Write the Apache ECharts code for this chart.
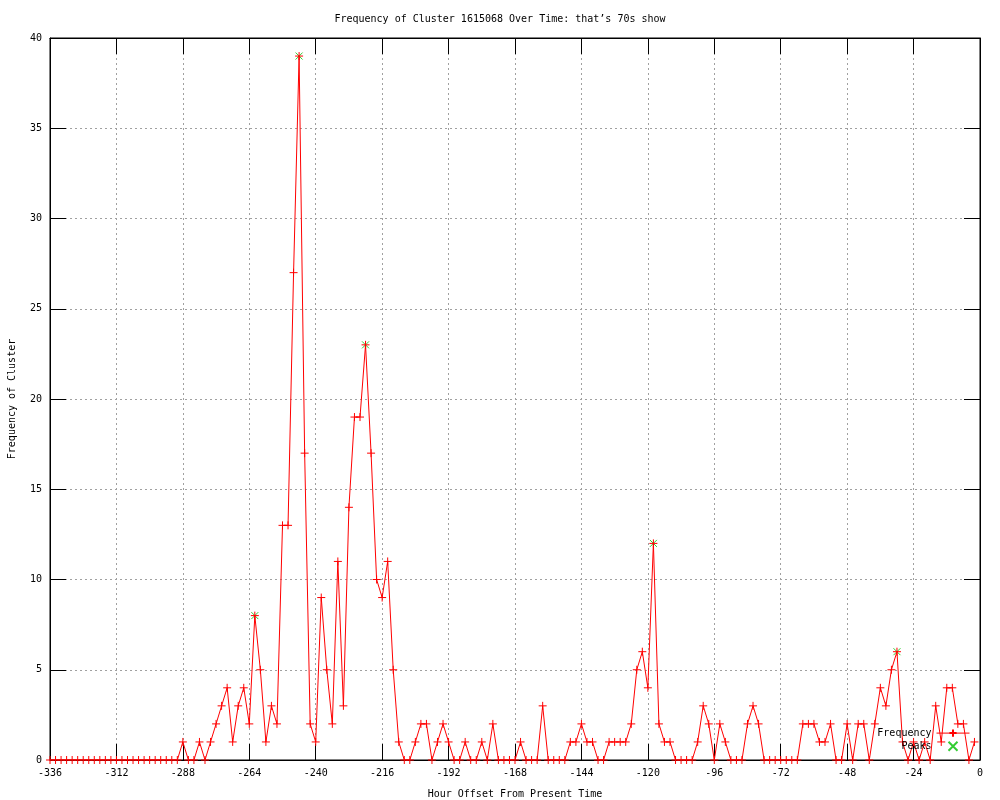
<!DOCTYPE html>
<html>
<head>
<meta charset="utf-8">
<script src="https://cdn.jsdelivr.net/npm/echarts@6/dist/echarts.min.js"></script>
<style>html,body{margin:0;padding:0;background:#fff;}#chart{width:1000px;height:800px;}</style>
</head>
<body>
<div id="chart"></div>
<script>
const hours = [-336,-334,-332,-330,-328,-326,-324,-322,-320,-318,-316,-314,-312,-310,-308,-306,-304,-302,-300,-298,-296,-294,-292,-290,
 -288,-286,-284,-282,-280,-278,-276,-274,-272,-270,-268,-266,-264,-262,-260,-258,-256,-254,-252,-250,-248,-246,-244,-242,-240,-238,
 -236,-234,-232,-230,-228,-226,-224,-222,-220,-218,-216,-214,-212,-210,-208,-206,-204,-202,-200,-198,-196,-194,-192,-190,-188,-186,
 -184,-182,-180,-178,-176,-174,-172,-170,-168,-166,-164,-162,-160,-158,-156,-154,-152,-150,-148,-146,-144,-142,-140,-138,-136,-134,
 -132,-130,-128,-126,-124,-122,-120,-118,-116,-114,-112,-110,-108,-106,-104,-102,-100,-98,-96,-94,-92,-90,-88,-86,-84,-82,-80,-78,
 -76,-74,-72,-70,-68,-66,-64,-62,-60,-58,-56,-54,-52,-50,-48,-46,-44,-42,-40,-38,-36,-34,-32,-30,-28,-26,-24,-22,-20,-18,-16,-14,
 -12,-10,-8,-6,-4,-2];
const frequency = [0,0,0,0,0,0,0,0,0,0,0,0,0,0,0,0,0,0,0,0,0,0,0,0,
 1,0,0,1,0,1,2,3,4,1,3,4,2,8,5,1,3,2,13,13,27,39,17,2,1,9,
 5,2,11,3,14,19,19,23,17,10,9,11,5,1,0,0,1,2,2,0,1,2,1,0,0,1,
 0,0,1,0,2,0,0,0,0,1,0,0,0,3,0,0,0,0,1,1,2,1,1,0,0,1,
 1,1,1,2,5,6,4,12,2,1,1,0,0,0,0,1,3,2,0,2,1,0,0,0,2,3,2,0,
 0,0,0,0,0,0,2,2,2,1,1,2,0,0,2,0,2,2,0,2,4,3,5,6,1,0,1,0,1,0,3,1,
 4,4,2,2,0,1];
const peakHours = [-262, -246, -222, -118, -30];
const peakValues = [8, 39, 23, 12, 6];
const xTicks = {min: -336, max: 0, interval: 24};
const yTicks = {min: 0, max: 40, interval: 5};

const freqData = hours.map((h, i) => [h, frequency[i]]);
const peakData = peakHours.map((h, i) => [h, peakValues[i]]);

const FONT = 'DejaVu Sans Mono';
const plus = 'path://M5,0L5,10M0,5L10,5';
const cross = 'path://M0,0L10,10M10,0L0,10';
const gridLine = {show: true, lineStyle: {color: '#a0a0a0', type: [2, 3], width: 1}};
const axisLineStyle = {show: true, onZero: false, lineStyle: {color: '#000'}};

const chart = echarts.init(document.getElementById('chart'), null, {renderer: 'canvas'});
chart.setOption({
  animation: false,
  backgroundColor: '#fff',
  title: {
    text: 'Frequency of Cluster 1615068 Over Time: that\u2019s 70s show',
    left: 'center', top: 9,
    textStyle: {fontFamily: FONT, fontSize: 10, fontWeight: 'normal', color: '#000'}
  },
  grid: {left: 50, right: 20, top: 38, bottom: 40, show: true, borderColor: '#000', borderWidth: 1,
    backgroundColor: 'transparent', containLabel: false, outerBoundsMode: 'none'},
  legend: {
    orient: 'vertical', right: 30, top: 727, align: 'right', padding: 0,
    itemWidth: 33, itemHeight: 9, itemGap: 0,
    lineStyle: {width: 1},
    textStyle: {fontFamily: FONT, fontSize: 10, color: '#000', lineHeight: 11},
    data: ['Frequency', 'Peaks']
  },
  xAxis: [{
    type: 'value', position: 'bottom', min: xTicks.min, max: xTicks.max, interval: xTicks.interval,
    name: 'Hour Offset From Present Time', nameLocation: 'middle', nameGap: 29,
    nameTextStyle: {fontFamily: FONT, fontSize: 10, color: '#000'},
    axisLine: axisLineStyle,
    axisTick: {inside: true, length: 16, lineStyle: {color: '#000'}},
    axisLabel: {fontFamily: FONT, fontSize: 10, color: '#000', margin: 8},
    splitLine: gridLine
  }, {
    type: 'value', position: 'top', min: xTicks.min, max: xTicks.max, interval: xTicks.interval,
    axisLine: axisLineStyle,
    axisTick: {inside: true, length: 16, lineStyle: {color: '#000'}},
    axisLabel: {show: false}, splitLine: {show: false}
  }],
  yAxis: [{
    type: 'value', position: 'left', min: yTicks.min, max: yTicks.max, interval: yTicks.interval,
    name: 'Frequency of Cluster', nameLocation: 'middle', nameGap: 33,
    nameTextStyle: {fontFamily: FONT, fontSize: 10, color: '#000'},
    axisLine: axisLineStyle,
    axisTick: {show: true, inside: true, length: 16, lineStyle: {color: '#000'}},
    axisLabel: {fontFamily: FONT, fontSize: 10, color: '#000', margin: 8},
    splitLine: gridLine
  }, {
    type: 'value', position: 'right', min: yTicks.min, max: yTicks.max, interval: yTicks.interval,
    axisLine: axisLineStyle,
    axisTick: {show: true, inside: true, length: 16, lineStyle: {color: '#000'}},
    axisLabel: {show: false}, splitLine: {show: false}
  }],
  series: [{
    name: 'Frequency', type: 'line', data: freqData, z: 3,
    symbol: plus, symbolSize: 8, showAllSymbol: true,
    lineStyle: {color: '#ff0000', width: 1},
    itemStyle: {color: 'none', borderColor: '#ff0000', borderWidth: 1},
    emphasis: {disabled: true}
  }, {
    name: 'Peaks', type: 'scatter', data: peakData, z: 2,
    symbol: cross, symbolSize: 7,
    itemStyle: {color: 'none', borderColor: '#00c000', borderWidth: 1},
    emphasis: {disabled: true}
  }]
});
</script>
</body>
</html>
